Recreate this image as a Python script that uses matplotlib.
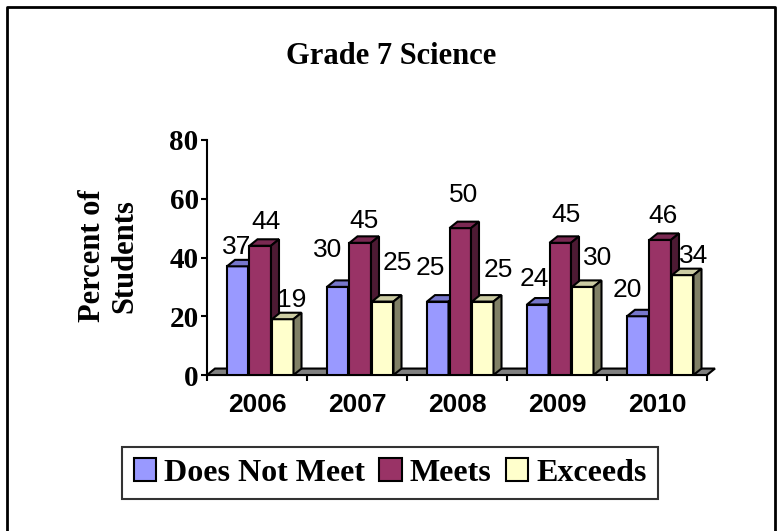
import matplotlib.pyplot as plt
from matplotlib.patches import Polygon, Patch
from matplotlib.lines import Line2D

years = ["2006", "2007", "2008", "2009", "2010"]
series_names = ["Does Not Meet", "Meets", "Exceeds"]
does_not_meet = [37, 30, 25, 24, 20]
meets = [44, 45, 50, 45, 46]
exceeds = [19, 25, 25, 30, 34]

# label nudges in pixels (x shift, gap above bar top)
label_dx = [[-1, -10, -7, -3, -10], [6, 3.5, 3.5, 5.5, 2.5], [9, 15, 16, 15, 11]]
label_gap = [[12, 30, 27, 19, 19], [17, 15, 26, 21, 17], [12, 32, 25, 22, 12]]

front = ["#9999FF", "#993366", "#FFFFCC"]
top = ["#7777CC", "#7A2952", "#CCCCA3"]
side = ["#555599", "#4D1A33", "#808066"]

serif = ["Liberation Serif", "DejaVu Serif"]
narrow = ["Liberation Sans Narrow", "Liberation Sans", "DejaVu Sans"]

fig = plt.figure(figsize=(7.81, 5.31), dpi=100)
ax = fig.add_axes([207 / 781, 156 / 531, 500 / 781, 235 / 531])

values = [does_not_meet, meets, exceeds]
w = 0.215
step = 0.225
dx = 0.08
dy = 2.2

# floor
floor = Polygon([(0, 0), (5, 0), (5 + dx, dy), (dx, dy)], closed=True,
                facecolor="#808080", edgecolor="black", lw=1.5, zorder=2, clip_on=False)
ax.add_patch(floor)

for i in range(len(years)):
    for j in range(3):
        v = values[j][i]
        x = i + 0.2 + j * step
        z = 3 + i * 3 + j
        ax.bar(x, v, w, align="edge", color=front[j], edgecolor="black", lw=1.5, zorder=z)
        ax.add_patch(Polygon([(x, v), (x + dx, v + dy), (x + w + dx, v + dy), (x + w, v)],
                             closed=True, facecolor=top[j], edgecolor="black", lw=1.5, zorder=z))
        ax.add_patch(Polygon([(x + w, 0), (x + w, v), (x + w + dx, v + dy), (x + w + dx, dy)],
                             closed=True, facecolor=side[j], edgecolor="black", lw=1.5, zorder=z))
        ax.annotate(str(v), xy=(x + w / 2, v), xytext=(label_dx[j][i] * 0.72, label_gap[j][i] * 0.72),
                    textcoords="offset points", ha="center", va="baseline",
                    fontsize=19, family=narrow, zorder=50, annotation_clip=False)

ax.set_xlim(0, 5)
ax.set_ylim(0, 80)
for s in ["top", "right"]:
    ax.spines[s].set_visible(False)
ax.spines["left"].set_linewidth(1.5)
ax.spines["bottom"].set_linewidth(1.5)
ax.spines["bottom"].set_zorder(1)

ax.set_yticks([0, 20, 40, 60, 80])
ax.set_yticklabels(["0", "20", "40", "60", "80"], fontsize=21, fontweight="bold", family=serif)
ax.tick_params(axis="y", direction="out", length=4, width=1.5, pad=2)

ax.set_xticks(range(6))
ax.set_xticklabels([""] * 6)
ax.tick_params(axis="x", which="major", direction="out", length=4, width=1.5)
ax.set_xticks([i + 0.5 for i in range(5)], minor=True)
ax.set_xticklabels(years, minor=True, fontsize=19, fontweight="bold", family=["Liberation Sans", "DejaVu Sans"])
ax.tick_params(axis="x", which="minor", length=0, pad=13)

fig.text(391 / 781, 1 - 56 / 531, "Grade 7 Science", ha="center", va="center",
         fontsize=22, fontweight="bold", family=serif)
fig.text(109 / 781, 1 - 256 / 531, "Percent of\nStudents", ha="center", va="center",
         rotation=90, multialignment="center", linespacing=1.15,
         fontsize=22, fontweight="bold", family=serif)

handles = [Patch(facecolor=front[k], edgecolor="black", lw=1.5) for k in range(3)]
leg = fig.legend(handles, series_names, loc="center", bbox_to_anchor=(390 / 781, 1 - 473 / 531),
                 ncol=3, frameon=True, fancybox=False, shadow=False,
                 prop={"family": serif, "weight": "bold", "size": 23},
                 handlelength=0.7, handleheight=0.7, handletextpad=0.25,
                 columnspacing=0.45, borderpad=0.35, borderaxespad=0)
leg.get_frame().set_edgecolor("black")
leg.get_frame().set_linewidth(1.5)

# outer border
bx0, bx1, by = 7.5 / 781, 774.5 / 781, 1 - 6.5 / 531
fig.add_artist(Line2D([bx0, bx0, bx1, bx1], [0, by, by, 0], transform=fig.transFigure,
                      color="black", lw=2))

fig.savefig("out.png", dpi=100)
